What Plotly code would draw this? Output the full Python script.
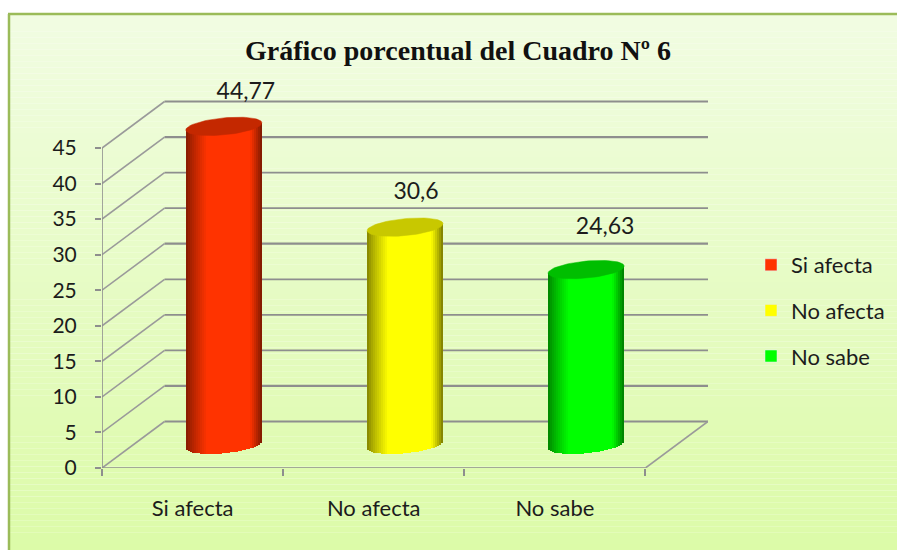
import math
import plotly.graph_objects as go

# ---- data ----
categories = ["Si afecta", "No afecta", "No sabe"]
values = [44.77, 30.6, 24.63]
value_labels = ["44,77", "30,6", "24,63"]
y_ticks = [0, 5, 10, 15, 20, 25, 30, 35, 40, 45]

# ---- styling ----
W, H = 897, 550
PX_X0, PX_X1, PX_Y0, PX_Y1 = 102, 708, 468, 70      # plot rectangle in pixels
X_UNIT, Y_UNIT = 181.0, 320 / 45                    # pixels per data unit
DX, DY = 62.5 / X_UNIT, 46.5 / Y_UNIT               # depth of the fake-3D box
side_colors = [(255, 51, 0), (255, 255, 0), (0, 255, 0)]
top_colors = ["#C42800", "#C8C800", "#00BE00"]
label_nudge_x = [22, 11, 19]     # pixels right of the cylinder axis
label_nudge_y = [33, 34, 41]     # pixels above the cylinder top
GRID = "#8E8E8E"
TXT = "#1c1c1c"
FONT = "Lato"

fig = go.Figure()
shapes = []


def line(x0, y0, x1, y1, width, color=GRID):
    shapes.append(dict(type="line", xref="x", yref="y", x0=x0, y0=y0, x1=x1, y1=y1,
                       layer="below", line=dict(color=color, width=width)))


# panel background: vertical gradient made of thin bands
N_BANDS = 90
c_top, c_bot = (241, 252, 226), (220, 251, 168)
for i in range(N_BANDS):
    f = i / (N_BANDS - 1)
    col = tuple(round(a + (b - a) * f) for a, b in zip(c_top, c_bot))
    y_hi = 1 - 14 / H - (1 - 14 / H) * i / N_BANDS
    y_lo = 1 - 14 / H - (1 - 14 / H) * (i + 1) / N_BANDS
    shapes.append(dict(type="rect", xref="paper", yref="paper", x0=9 / W, x1=1,
                       y0=y_lo, y1=y_hi, layer="below", line=dict(width=0),
                       fillcolor="rgb(%d,%d,%d)" % col))
# panel border (left and top)
shapes.append(dict(type="line", xref="paper", yref="paper", x0=9 / W, x1=9 / W, y0=0, y1=1 - 14 / H,
                   layer="below", line=dict(color="#9BBB59", width=2.5)))
shapes.append(dict(type="line", xref="paper", yref="paper", x0=8 / W, x1=1, y0=1 - 14 / H, y1=1 - 14 / H,
                   layer="below", line=dict(color="#9BBB59", width=2.5)))

# walls, floor and axis lines
for t in y_ticks:
    line(DX, t + DY, 3 + DX, t + DY, 2.2 if t in (0, 5, 25, 40) else 1.8)
    line(0, t, DX, t + DY, 1.6, "#9A9A9A")
line(3, 0, 3 + DX, DY, 1.6, "#9A9A9A")
line(0, 0, 0, 45, 1.6)
line(0, 0, 3, 0, 1.6)

# cylinders: one Bar trace per category, made of narrow shaded strips
A = 38 / X_UNIT          # half width of a cylinder
B = 8.5 / Y_UNIT         # ellipse half height
TILT = (3.5 / 38) * (X_UNIT / Y_UNIT)   # ellipse slope, in data units
N_STRIPS = 38
STRIP_W = 2 * A / N_STRIPS


def shade(u):
    """Brightness of a strip at u in 0..1 across the cylinder."""
    if u < 0.28:
        return 0.50 + 0.50 * (u / 0.28) ** 0.8
    if u < 0.84:
        return 1.0
    return 1.0 - 0.52 * ((u - 0.84) / 0.16) ** 1.1


for i, (name, v, rgb, top) in enumerate(zip(categories, values, side_colors, top_colors)):
    cx = i + 0.5 + DX / 2
    cy = DY / 2
    xs, bases, heights, colors = [], [], [], []
    for j in range(N_STRIPS):
        u = (j + 0.5) / N_STRIPS
        off = (2 * u - 1) * A
        arc = B * (1 - (2 * u - 1) ** 2) ** 0.5
        base = cy + TILT * off - arc
        xs.append(cx + off)
        bases.append(base)
        heights.append(cy + v + TILT * off - base)
        s = shade(u)
        colors.append("rgb(%d,%d,%d)" % tuple(round(c * s) for c in rgb))
    fig.add_trace(go.Bar(x=xs, y=heights, base=bases, width=STRIP_W * 1.08,
                         marker=dict(color=colors, line=dict(width=0)),
                         showlegend=False, hoverinfo="skip"))
    # top ellipse
    ex, ey = [], []
    for k in range(73):
        co, si = math.cos(math.radians(k * 5)), math.sin(math.radians(k * 5))
        ex.append(cx + A * co)
        ey.append(cy + v + TILT * A * co + B * si)
    fig.add_trace(go.Scatter(x=ex, y=ey, mode="lines", fill="toself", fillcolor=top,
                             line=dict(color=top, width=0.5), showlegend=False, hoverinfo="skip"))

# value labels
fig.add_trace(go.Scatter(
    x=[i + 0.5 + DX / 2 + label_nudge_x[i] / X_UNIT for i in range(3)],
    y=[v + DY / 2 + label_nudge_y[i] / Y_UNIT for i, v in enumerate(values)],
    mode="text", text=value_labels, textposition="middle center", cliponaxis=False,
    textfont=dict(family=FONT, size=23, color=TXT), showlegend=False, hoverinfo="skip"))

# legend entries
for name, rgb in zip(categories, side_colors):
    fig.add_trace(go.Bar(x=[None], y=[None], name=name, legendgroup=name,
                         marker=dict(color="rgb(%d,%d,%d)" % rgb)))

fig.update_layout(
    width=W, height=561, autosize=False,
    margin=dict(l=0, r=0, t=0, b=0),
    paper_bgcolor="white", plot_bgcolor="rgba(0,0,0,0)",
    barmode="overlay", bargap=0,
    shapes=shapes,
    title=dict(text="<b>Gráfico porcentual del Cuadro Nº 6</b>", x=458 / W, xanchor="center",
               y=1 - 49 / H, yanchor="middle",
               font=dict(family="Liberation Serif", size=28, color="#111111")),
    legend=dict(x=751 / W, xanchor="left", y=1 - 244 / H, yanchor="top", tracegroupgap=14,
                bgcolor="rgba(0,0,0,0)", font=dict(family=FONT, size=22, color=TXT)),
    xaxis=dict(domain=[PX_X0 / W, PX_X1 / W], range=[0, 3 + DX], showgrid=False, zeroline=False,
               showline=False, tickmode="array", tickvals=[0.5, 1.5, 2.5], ticktext=categories,
               ticks="", ticklabelstandoff=25,
               tickfont=dict(family=FONT, size=22, color=TXT),
               minor=dict(tickmode="array", tickvals=[0, 1, 2, 3], ticks="outside", ticklen=7,
                          tickwidth=2, tickcolor=GRID, showgrid=False)),
    yaxis=dict(domain=[1 - PX_Y0 / H, 1 - PX_Y1 / H],
               range=[0, (PX_Y0 - PX_Y1) / Y_UNIT], showgrid=False, zeroline=False,
               showline=False, tickmode="array", tickvals=y_ticks, ticks="outside", ticklen=6,
               tickwidth=1.5, tickcolor=GRID, ticklabelstandoff=14,
               tickfont=dict(family=FONT, size=21, color=TXT)),
)

fig.write_html("out.html", config=dict(displayModeBar=False, responsive=False),
               default_width="897px", default_height="561px",
               post_script="document.body.style.margin='0';document.body.style.overflow='hidden';")
